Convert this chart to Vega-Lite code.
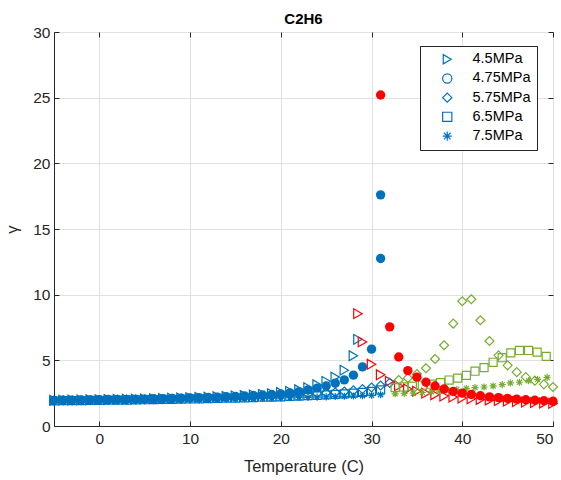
{
  "$schema": "https://vega.github.io/schema/vega-lite/v6.json",
  "width": 499,
  "height": 394,
  "autosize": {"type": "none"},
  "padding": {"left": 54, "top": 32, "right": 8, "bottom": 54},
  "background": "white",
  "title": {"text": "C2H6", "fontSize": 15, "fontWeight": "bold", "font": "Liberation Sans", "color": "#000000", "offset": 0, "dy": 2, "anchor": "middle"},
  "config": {
    "view": {"stroke": "#262626", "strokeWidth": 1},
    "font": "Liberation Sans",
    "axis": {
      "domainColor": "#262626", "tickColor": "#262626", "labelColor": "#262626", "titleColor": "#262626",
      "gridColor": "#e1e1e1", "labelFontSize": 15.5, "titleFontSize": 16.5, "titleFontWeight": "normal",
      "tickSize": -5, "labelFont": "Liberation Sans", "titleFont": "Liberation Sans"
    }
  },
  "data": {"values": [
    {"s":"4.5MPa","p":"liquid","T":-5,"g":1.96},{"s":"4.5MPa","p":"liquid","T":-4,"g":1.97},{"s":"4.5MPa","p":"liquid","T":-3,"g":1.98},{"s":"4.5MPa","p":"liquid","T":-2,"g":1.99},{"s":"4.5MPa","p":"liquid","T":-1,"g":2.0},{"s":"4.5MPa","p":"liquid","T":0,"g":2.01},{"s":"4.5MPa","p":"liquid","T":1,"g":2.02},{"s":"4.5MPa","p":"liquid","T":2,"g":2.03},{"s":"4.5MPa","p":"liquid","T":3,"g":2.04},{"s":"4.5MPa","p":"liquid","T":4,"g":2.05},{"s":"4.5MPa","p":"liquid","T":5,"g":2.07},{"s":"4.5MPa","p":"liquid","T":6,"g":2.08},{"s":"4.5MPa","p":"liquid","T":7,"g":2.1},{"s":"4.5MPa","p":"liquid","T":8,"g":2.12},{"s":"4.5MPa","p":"liquid","T":9,"g":2.14},{"s":"4.5MPa","p":"liquid","T":10,"g":2.16},{"s":"4.5MPa","p":"liquid","T":11,"g":2.18},{"s":"4.5MPa","p":"liquid","T":12,"g":2.2},{"s":"4.5MPa","p":"liquid","T":13,"g":2.23},{"s":"4.5MPa","p":"liquid","T":14,"g":2.26},{"s":"4.5MPa","p":"liquid","T":15,"g":2.29},{"s":"4.5MPa","p":"liquid","T":16,"g":2.32},{"s":"4.5MPa","p":"liquid","T":17,"g":2.36},{"s":"4.5MPa","p":"liquid","T":18,"g":2.41},{"s":"4.5MPa","p":"liquid","T":19,"g":2.47},{"s":"4.5MPa","p":"liquid","T":20,"g":2.55},{"s":"4.5MPa","p":"liquid","T":21,"g":2.64},{"s":"4.5MPa","p":"liquid","T":22,"g":2.76},{"s":"4.5MPa","p":"liquid","T":23,"g":2.92},{"s":"4.5MPa","p":"liquid","T":24,"g":3.14},{"s":"4.5MPa","p":"liquid","T":25,"g":3.4},{"s":"4.5MPa","p":"liquid","T":26,"g":3.72},{"s":"4.5MPa","p":"liquid","T":27,"g":4.25},{"s":"4.5MPa","p":"liquid","T":28,"g":5.35},{"s":"4.5MPa","p":"liquid","T":28.5,"g":6.6},
    {"s":"4.5MPa","p":"gas","T":28.5,"g":8.55},{"s":"4.5MPa","p":"gas","T":29,"g":6.4},{"s":"4.5MPa","p":"gas","T":30,"g":4.7},{"s":"4.5MPa","p":"gas","T":31,"g":3.9},{"s":"4.5MPa","p":"gas","T":32,"g":3.4},{"s":"4.5MPa","p":"gas","T":33,"g":3.05},{"s":"4.5MPa","p":"gas","T":34,"g":2.82},{"s":"4.5MPa","p":"gas","T":35,"g":2.65},{"s":"4.5MPa","p":"gas","T":36,"g":2.5},{"s":"4.5MPa","p":"gas","T":37,"g":2.38},{"s":"4.5MPa","p":"gas","T":38,"g":2.28},{"s":"4.5MPa","p":"gas","T":39,"g":2.2},{"s":"4.5MPa","p":"gas","T":40,"g":2.13},{"s":"4.5MPa","p":"gas","T":41,"g":2.07},{"s":"4.5MPa","p":"gas","T":42,"g":2.02},{"s":"4.5MPa","p":"gas","T":43,"g":1.97},{"s":"4.5MPa","p":"gas","T":44,"g":1.93},{"s":"4.5MPa","p":"gas","T":45,"g":1.89},{"s":"4.5MPa","p":"gas","T":46,"g":1.85},{"s":"4.5MPa","p":"gas","T":47,"g":1.82},{"s":"4.5MPa","p":"gas","T":48,"g":1.78},{"s":"4.5MPa","p":"gas","T":49,"g":1.75},{"s":"4.5MPa","p":"gas","T":50,"g":1.72},
    {"s":"4.75MPa","p":"liquid","T":-5,"g":1.95},{"s":"4.75MPa","p":"liquid","T":-4,"g":1.96},{"s":"4.75MPa","p":"liquid","T":-3,"g":1.97},{"s":"4.75MPa","p":"liquid","T":-2,"g":1.98},{"s":"4.75MPa","p":"liquid","T":-1,"g":1.99},{"s":"4.75MPa","p":"liquid","T":0,"g":2.0},{"s":"4.75MPa","p":"liquid","T":1,"g":2.01},{"s":"4.75MPa","p":"liquid","T":2,"g":2.02},{"s":"4.75MPa","p":"liquid","T":3,"g":2.03},{"s":"4.75MPa","p":"liquid","T":4,"g":2.04},{"s":"4.75MPa","p":"liquid","T":5,"g":2.05},{"s":"4.75MPa","p":"liquid","T":6,"g":2.07},{"s":"4.75MPa","p":"liquid","T":7,"g":2.08},{"s":"4.75MPa","p":"liquid","T":8,"g":2.1},{"s":"4.75MPa","p":"liquid","T":9,"g":2.12},{"s":"4.75MPa","p":"liquid","T":10,"g":2.14},{"s":"4.75MPa","p":"liquid","T":11,"g":2.16},{"s":"4.75MPa","p":"liquid","T":12,"g":2.18},{"s":"4.75MPa","p":"liquid","T":13,"g":2.2},{"s":"4.75MPa","p":"liquid","T":14,"g":2.23},{"s":"4.75MPa","p":"liquid","T":15,"g":2.26},{"s":"4.75MPa","p":"liquid","T":16,"g":2.29},{"s":"4.75MPa","p":"liquid","T":17,"g":2.32},{"s":"4.75MPa","p":"liquid","T":18,"g":2.36},{"s":"4.75MPa","p":"liquid","T":19,"g":2.4},{"s":"4.75MPa","p":"liquid","T":20,"g":2.45},{"s":"4.75MPa","p":"liquid","T":21,"g":2.52},{"s":"4.75MPa","p":"liquid","T":22,"g":2.62},{"s":"4.75MPa","p":"liquid","T":23,"g":2.75},{"s":"4.75MPa","p":"liquid","T":24,"g":2.88},{"s":"4.75MPa","p":"liquid","T":25,"g":3.05},{"s":"4.75MPa","p":"liquid","T":26,"g":3.26},{"s":"4.75MPa","p":"liquid","T":27,"g":3.51},{"s":"4.75MPa","p":"liquid","T":28,"g":3.87},{"s":"4.75MPa","p":"liquid","T":29,"g":4.5},{"s":"4.75MPa","p":"liquid","T":30,"g":5.85},{"s":"4.75MPa","p":"liquid","T":31,"g":12.75},{"s":"4.75MPa","p":"liquid","T":31,"g":17.6},
    {"s":"4.75MPa","p":"gas","T":31,"g":25.2},{"s":"4.75MPa","p":"gas","T":32,"g":7.55},{"s":"4.75MPa","p":"gas","T":33,"g":5.25},{"s":"4.75MPa","p":"gas","T":34,"g":4.22},{"s":"4.75MPa","p":"gas","T":35,"g":3.72},{"s":"4.75MPa","p":"gas","T":36,"g":3.33},{"s":"4.75MPa","p":"gas","T":37,"g":3.05},{"s":"4.75MPa","p":"gas","T":38,"g":2.82},{"s":"4.75MPa","p":"gas","T":39,"g":2.63},{"s":"4.75MPa","p":"gas","T":40,"g":2.5},{"s":"4.75MPa","p":"gas","T":41,"g":2.4},{"s":"4.75MPa","p":"gas","T":42,"g":2.3},{"s":"4.75MPa","p":"gas","T":43,"g":2.22},{"s":"4.75MPa","p":"gas","T":44,"g":2.16},{"s":"4.75MPa","p":"gas","T":45,"g":2.1},{"s":"4.75MPa","p":"gas","T":46,"g":2.05},{"s":"4.75MPa","p":"gas","T":47,"g":2.0},{"s":"4.75MPa","p":"gas","T":48,"g":1.96},{"s":"4.75MPa","p":"gas","T":49,"g":1.92},{"s":"4.75MPa","p":"gas","T":50,"g":1.88},
    {"s":"5.75MPa","p":"liquid","T":-5,"g":1.94},{"s":"5.75MPa","p":"liquid","T":-4,"g":1.95},{"s":"5.75MPa","p":"liquid","T":-3,"g":1.95},{"s":"5.75MPa","p":"liquid","T":-2,"g":1.96},{"s":"5.75MPa","p":"liquid","T":-1,"g":1.97},{"s":"5.75MPa","p":"liquid","T":0,"g":1.98},{"s":"5.75MPa","p":"liquid","T":1,"g":1.99},{"s":"5.75MPa","p":"liquid","T":2,"g":2.0},{"s":"5.75MPa","p":"liquid","T":3,"g":2.01},{"s":"5.75MPa","p":"liquid","T":4,"g":2.02},{"s":"5.75MPa","p":"liquid","T":5,"g":2.03},{"s":"5.75MPa","p":"liquid","T":6,"g":2.04},{"s":"5.75MPa","p":"liquid","T":7,"g":2.05},{"s":"5.75MPa","p":"liquid","T":8,"g":2.07},{"s":"5.75MPa","p":"liquid","T":9,"g":2.08},{"s":"5.75MPa","p":"liquid","T":10,"g":2.1},{"s":"5.75MPa","p":"liquid","T":11,"g":2.11},{"s":"5.75MPa","p":"liquid","T":12,"g":2.13},{"s":"5.75MPa","p":"liquid","T":13,"g":2.15},{"s":"5.75MPa","p":"liquid","T":14,"g":2.17},{"s":"5.75MPa","p":"liquid","T":15,"g":2.19},{"s":"5.75MPa","p":"liquid","T":16,"g":2.21},{"s":"5.75MPa","p":"liquid","T":17,"g":2.23},{"s":"5.75MPa","p":"liquid","T":18,"g":2.26},{"s":"5.75MPa","p":"liquid","T":19,"g":2.28},{"s":"5.75MPa","p":"liquid","T":20,"g":2.31},{"s":"5.75MPa","p":"liquid","T":21,"g":2.34},{"s":"5.75MPa","p":"liquid","T":22,"g":2.38},{"s":"5.75MPa","p":"liquid","T":23,"g":2.42},{"s":"5.75MPa","p":"liquid","T":24,"g":2.46},{"s":"5.75MPa","p":"liquid","T":25,"g":2.51},{"s":"5.75MPa","p":"liquid","T":26,"g":2.56},{"s":"5.75MPa","p":"liquid","T":27,"g":2.63},{"s":"5.75MPa","p":"liquid","T":28,"g":2.71},{"s":"5.75MPa","p":"liquid","T":29,"g":2.81},{"s":"5.75MPa","p":"liquid","T":30,"g":2.93},{"s":"5.75MPa","p":"liquid","T":31,"g":3.08},{"s":"5.75MPa","p":"liquid","T":32,"g":3.28},
    {"s":"5.75MPa","p":"super","T":33,"g":3.5},{"s":"5.75MPa","p":"super","T":34,"g":3.65},{"s":"5.75MPa","p":"super","T":35,"g":3.95},{"s":"5.75MPa","p":"super","T":36,"g":4.4},{"s":"5.75MPa","p":"super","T":37,"g":5.1},{"s":"5.75MPa","p":"super","T":38,"g":6.15},{"s":"5.75MPa","p":"super","T":39,"g":7.8},{"s":"5.75MPa","p":"super","T":40,"g":9.5},{"s":"5.75MPa","p":"super","T":41,"g":9.65},{"s":"5.75MPa","p":"super","T":42,"g":8.05},{"s":"5.75MPa","p":"super","T":43,"g":6.47},{"s":"5.75MPa","p":"super","T":44,"g":5.38},{"s":"5.75MPa","p":"super","T":45,"g":4.62},{"s":"5.75MPa","p":"super","T":46,"g":4.1},{"s":"5.75MPa","p":"super","T":47,"g":3.72},{"s":"5.75MPa","p":"super","T":48,"g":3.45},{"s":"5.75MPa","p":"super","T":49,"g":3.17},{"s":"5.75MPa","p":"super","T":50,"g":2.97},
    {"s":"6.5MPa","p":"liquid","T":-5,"g":1.92},{"s":"6.5MPa","p":"liquid","T":-4,"g":1.93},{"s":"6.5MPa","p":"liquid","T":-3,"g":1.93},{"s":"6.5MPa","p":"liquid","T":-2,"g":1.94},{"s":"6.5MPa","p":"liquid","T":-1,"g":1.95},{"s":"6.5MPa","p":"liquid","T":0,"g":1.96},{"s":"6.5MPa","p":"liquid","T":1,"g":1.97},{"s":"6.5MPa","p":"liquid","T":2,"g":1.97},{"s":"6.5MPa","p":"liquid","T":3,"g":1.98},{"s":"6.5MPa","p":"liquid","T":4,"g":1.99},{"s":"6.5MPa","p":"liquid","T":5,"g":2.0},{"s":"6.5MPa","p":"liquid","T":6,"g":2.01},{"s":"6.5MPa","p":"liquid","T":7,"g":2.02},{"s":"6.5MPa","p":"liquid","T":8,"g":2.03},{"s":"6.5MPa","p":"liquid","T":9,"g":2.05},{"s":"6.5MPa","p":"liquid","T":10,"g":2.06},{"s":"6.5MPa","p":"liquid","T":11,"g":2.07},{"s":"6.5MPa","p":"liquid","T":12,"g":2.09},{"s":"6.5MPa","p":"liquid","T":13,"g":2.1},{"s":"6.5MPa","p":"liquid","T":14,"g":2.12},{"s":"6.5MPa","p":"liquid","T":15,"g":2.13},{"s":"6.5MPa","p":"liquid","T":16,"g":2.15},{"s":"6.5MPa","p":"liquid","T":17,"g":2.17},{"s":"6.5MPa","p":"liquid","T":18,"g":2.19},{"s":"6.5MPa","p":"liquid","T":19,"g":2.2},{"s":"6.5MPa","p":"liquid","T":20,"g":2.22},{"s":"6.5MPa","p":"liquid","T":21,"g":2.25},{"s":"6.5MPa","p":"liquid","T":22,"g":2.28},{"s":"6.5MPa","p":"liquid","T":23,"g":2.31},{"s":"6.5MPa","p":"liquid","T":24,"g":2.34},{"s":"6.5MPa","p":"liquid","T":25,"g":2.37},{"s":"6.5MPa","p":"liquid","T":26,"g":2.41},{"s":"6.5MPa","p":"liquid","T":27,"g":2.45},{"s":"6.5MPa","p":"liquid","T":28,"g":2.5},{"s":"6.5MPa","p":"liquid","T":29,"g":2.56},{"s":"6.5MPa","p":"liquid","T":30,"g":2.64},{"s":"6.5MPa","p":"liquid","T":31,"g":2.75},
    {"s":"6.5MPa","p":"super","T":32.6,"g":2.92},{"s":"6.5MPa","p":"super","T":33.55,"g":2.97},{"s":"6.5MPa","p":"super","T":34.5,"g":3.03},{"s":"6.5MPa","p":"super","T":35.6,"g":3.1},{"s":"6.5MPa","p":"super","T":36.6,"g":3.18},{"s":"6.5MPa","p":"super","T":37.6,"g":3.3},{"s":"6.5MPa","p":"super","T":38.55,"g":3.5},{"s":"6.5MPa","p":"super","T":39.5,"g":3.65},{"s":"6.5MPa","p":"super","T":40.45,"g":3.85},{"s":"6.5MPa","p":"super","T":41.4,"g":4.17},{"s":"6.5MPa","p":"super","T":42.4,"g":4.45},{"s":"6.5MPa","p":"super","T":43.4,"g":4.85},{"s":"6.5MPa","p":"super","T":44.4,"g":5.2},{"s":"6.5MPa","p":"super","T":45.35,"g":5.57},{"s":"6.5MPa","p":"super","T":46.3,"g":5.75},{"s":"6.5MPa","p":"super","T":47.3,"g":5.75},{"s":"6.5MPa","p":"super","T":48.25,"g":5.62},{"s":"6.5MPa","p":"super","T":49.25,"g":5.3},
    {"s":"7.5MPa","p":"liquid","T":-5,"g":1.88},{"s":"7.5MPa","p":"liquid","T":-4,"g":1.89},{"s":"7.5MPa","p":"liquid","T":-3,"g":1.89},{"s":"7.5MPa","p":"liquid","T":-2,"g":1.9},{"s":"7.5MPa","p":"liquid","T":-1,"g":1.91},{"s":"7.5MPa","p":"liquid","T":0,"g":1.92},{"s":"7.5MPa","p":"liquid","T":1,"g":1.92},{"s":"7.5MPa","p":"liquid","T":2,"g":1.93},{"s":"7.5MPa","p":"liquid","T":3,"g":1.94},{"s":"7.5MPa","p":"liquid","T":4,"g":1.95},{"s":"7.5MPa","p":"liquid","T":5,"g":1.96},{"s":"7.5MPa","p":"liquid","T":6,"g":1.96},{"s":"7.5MPa","p":"liquid","T":7,"g":1.97},{"s":"7.5MPa","p":"liquid","T":8,"g":1.98},{"s":"7.5MPa","p":"liquid","T":9,"g":1.99},{"s":"7.5MPa","p":"liquid","T":10,"g":2.0},{"s":"7.5MPa","p":"liquid","T":11,"g":2.01},{"s":"7.5MPa","p":"liquid","T":12,"g":2.02},{"s":"7.5MPa","p":"liquid","T":13,"g":2.04},{"s":"7.5MPa","p":"liquid","T":14,"g":2.05},{"s":"7.5MPa","p":"liquid","T":15,"g":2.06},{"s":"7.5MPa","p":"liquid","T":16,"g":2.07},{"s":"7.5MPa","p":"liquid","T":17,"g":2.09},{"s":"7.5MPa","p":"liquid","T":18,"g":2.1},{"s":"7.5MPa","p":"liquid","T":19,"g":2.12},{"s":"7.5MPa","p":"liquid","T":20,"g":2.13},{"s":"7.5MPa","p":"liquid","T":21,"g":2.15},{"s":"7.5MPa","p":"liquid","T":22,"g":2.17},{"s":"7.5MPa","p":"liquid","T":23,"g":2.18},{"s":"7.5MPa","p":"liquid","T":24,"g":2.2},{"s":"7.5MPa","p":"liquid","T":25,"g":2.22},{"s":"7.5MPa","p":"liquid","T":26,"g":2.24},{"s":"7.5MPa","p":"liquid","T":27,"g":2.26},{"s":"7.5MPa","p":"liquid","T":28,"g":2.28},{"s":"7.5MPa","p":"liquid","T":29,"g":2.31},{"s":"7.5MPa","p":"liquid","T":30,"g":2.34},{"s":"7.5MPa","p":"liquid","T":31,"g":2.38},
    {"s":"7.5MPa","p":"super","T":32.6,"g":2.45},{"s":"7.5MPa","p":"super","T":33.6,"g":2.48},{"s":"7.5MPa","p":"super","T":34.6,"g":2.5},{"s":"7.5MPa","p":"super","T":35.6,"g":2.55},{"s":"7.5MPa","p":"super","T":36.6,"g":2.6},{"s":"7.5MPa","p":"super","T":37.5,"g":2.65},{"s":"7.5MPa","p":"super","T":38.5,"g":2.7},{"s":"7.5MPa","p":"super","T":39.4,"g":2.78},{"s":"7.5MPa","p":"super","T":40.45,"g":2.85},{"s":"7.5MPa","p":"super","T":41.4,"g":2.92},{"s":"7.5MPa","p":"super","T":42.4,"g":2.97},{"s":"7.5MPa","p":"super","T":43.4,"g":3.05},{"s":"7.5MPa","p":"super","T":44.4,"g":3.15},{"s":"7.5MPa","p":"super","T":45.3,"g":3.28},{"s":"7.5MPa","p":"super","T":46.3,"g":3.33},{"s":"7.5MPa","p":"super","T":47.3,"g":3.45},{"s":"7.5MPa","p":"super","T":48.3,"g":3.55},{"s":"7.5MPa","p":"super","T":49.35,"g":3.7}
  ]},
  "transform": [{"calculate": "datum.s + ''", "as": "k"}],
  "layer": [
    {
      "layer": [
        {
          "transform": [{"filter": "datum.s !== '4.75MPa'"}],
          "mark": {"type": "point", "filled": false, "opacity": 1, "strokeWidth": 1.2},
          "encoding": {
            "x": {"field": "T", "type": "quantitative", "scale": {"domain": [-5, 50], "nice": false, "zero": false},
                  "axis": {"values": [0, 10, 20, 30, 40, 50], "title": "Temperature (C)", "labelPadding": 10, "titlePadding": 12}},
            "y": {"field": "g", "type": "quantitative", "scale": {"domain": [0, 30], "nice": false},
                  "axis": {"values": [0, 5, 10, 15, 20, 25, 30], "title": "γ", "labelPadding": 9, "titlePadding": 12}},
            "color": {"field": "p", "type": "nominal", "scale": {"domain": ["liquid", "gas", "super"], "range": ["#0072BD", "#FF0000", "#77AC30"]}, "legend": null},
            "size": {"field": "k", "type": "nominal", "scale": {"range": [95, 50, 120, 75, 85]}, "legend": null},
            "shape": {"field": "s", "type": "nominal", "legend": null,
              "scale": {"domain": ["4.5MPa", "4.75MPa", "5.75MPa", "6.5MPa", "7.5MPa"],
                        "range": ["triangle-right", "circle", "diamond", "square", "M-1,0L1,0M0,-1L0,1M-0.72,-0.72L0.72,0.72M-0.72,0.72L0.72,-0.72"]}}
          }
        },
        {
          "transform": [{"filter": "datum.s === '4.75MPa'"}],
          "mark": {"type": "point", "filled": true, "opacity": 1, "strokeWidth": 0},
          "encoding": {
            "x": {"field": "T", "type": "quantitative"},
            "y": {"field": "g", "type": "quantitative"},
            "color": {"field": "p", "type": "nominal", "scale": {"domain": ["liquid", "gas", "super"], "range": ["#0072BD", "#FF0000", "#77AC30"]}, "legend": null},
            "size": {"value": 88},
            "shape": {"field": "s", "type": "nominal", "legend": null,
              "scale": {"domain": ["4.5MPa", "4.75MPa", "5.75MPa", "6.5MPa", "7.5MPa"],
                        "range": ["triangle-right", "circle", "diamond", "square", "M-1,0L1,0M0,-1L0,1M-0.72,-0.72L0.72,0.72M-0.72,0.72L0.72,-0.72"]}}
          }
        }
      ]
    },
    {
      "mark": {"type": "point", "opacity": 0, "filled": false},
      "encoding": {
        "x": {"field": "T", "type": "quantitative", "axis": {"orient": "top", "values": [0, 10, 20, 30, 40, 50], "labels": false, "title": null, "grid": false, "domain": false}},
        "y": {"field": "g", "type": "quantitative", "axis": {"orient": "right", "values": [0, 5, 10, 15, 20, 25, 30], "labels": false, "title": null, "grid": false, "domain": false}},
        "shape": {"field": "s", "type": "nominal",
          "scale": {"domain": ["4.5MPa", "4.75MPa", "5.75MPa", "6.5MPa", "7.5MPa"],
                    "range": ["triangle-right", "circle", "diamond", "square", "M-1,0L1,0M0,-1L0,1M-0.72,-0.72L0.72,0.72M-0.72,0.72L0.72,-0.72"]},
          "legend": {"title": null, "orient": "none", "legendX": 366, "legendY": 14, "strokeColor": "#262626", "fillColor": "white", "padding": 6,
            "labelFontSize": 14.5, "labelFont": "Liberation Sans", "labelColor": "#000000", "symbolSize": 85, "symbolOffset": 14, "labelOffset": 18,
            "rowPadding": 3.2, "symbolStrokeWidth": 1.2, "symbolOpacity": 1, "symbolFillColor": "transparent", "symbolStrokeColor": "#0072BD"}},
        "stroke": {"field": "s", "type": "nominal",
          "scale": {"domain": ["4.5MPa", "4.75MPa", "5.75MPa", "6.5MPa", "7.5MPa"], "range": ["#0072BD", "#0072BD", "#0072BD", "#77AC30", "#77AC30"]},
          "legend": {"title": null, "orient": "none", "legendX": 366, "legendY": 14, "strokeColor": "#262626", "fillColor": "white", "padding": 6,
            "labelFontSize": 14.5, "labelFont": "Liberation Sans", "labelColor": "#000000", "symbolSize": 85, "symbolOffset": 14, "labelOffset": 18,
            "rowPadding": 3.2, "symbolStrokeWidth": 1.2, "symbolOpacity": 1, "symbolFillColor": "transparent", "symbolStrokeColor": "#0072BD"}},
        "fill": {"field": "s", "type": "nominal",
          "scale": {"domain": ["4.5MPa", "4.75MPa", "5.75MPa", "6.5MPa", "7.5MPa"], "range": ["transparent", "#0072BD", "transparent", "transparent", "transparent"]},
          "legend": {"title": null, "orient": "none", "legendX": 366, "legendY": 14, "strokeColor": "#262626", "fillColor": "white", "padding": 6,
            "labelFontSize": 14.5, "labelFont": "Liberation Sans", "labelColor": "#000000", "symbolSize": 85, "symbolOffset": 14, "labelOffset": 18,
            "rowPadding": 3.2, "symbolStrokeWidth": 1.2, "symbolOpacity": 1, "symbolFillColor": "transparent", "symbolStrokeColor": "#0072BD"}}
      }
    }
  ],
  "resolve": {"axis": {"x": "independent", "y": "independent"}, "scale": {"shape": "independent"}, "legend": {"shape": "independent"}}
}
